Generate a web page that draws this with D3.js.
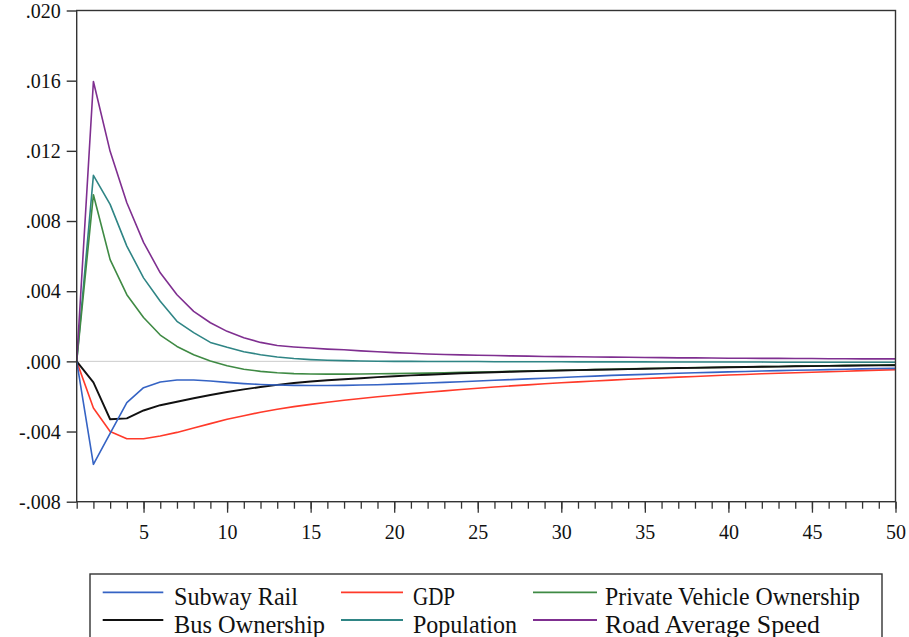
<!DOCTYPE html>
<html><head><meta charset="utf-8">
<script src="https://cdn.jsdelivr.net/npm/d3@7"></script>
<style>body{margin:0;background:#fff}svg{display:block}text{font-family:"Liberation Serif","Times New Roman",serif;fill:#111}</style>
</head><body>
<svg id="c" width="909" height="637"></svg>
<script>
const periods = d3.range(1, 51);
const yTicks = [0.020, 0.016, 0.012, 0.008, 0.004, 0.000, -0.004, -0.008];
const xTickLabels = [5, 10, 15, 20, 25, 30, 35, 40, 45, 50];

const subwayRail = [0,-0.00587,-0.0041,-0.00235,-0.0015,-0.00118,-0.00106,-0.00106,-0.00112,-0.0012,
 -0.00127,-0.00132,-0.00135,-0.00137,-0.00138,-0.00138,-0.00137,-0.00135,-0.00133,-0.0013,
 -0.00127,-0.00123,-0.0012,-0.00116,-0.00112,-0.00108,-0.00104,-0.001,-0.00096,-0.00092,
 -0.00088,-0.00084,-0.0008,-0.00077,-0.00074,-0.00071,-0.00068,-0.00065,-0.00063,-0.0006,
 -0.00058,-0.00055,-0.00053,-0.00051,-0.00049,-0.00047,-0.00045,-0.00043,-0.00041,-0.0004];
const gdp = [0,-0.00266,-0.004,-0.00441,-0.00441,-0.00425,-0.00405,-0.0038,-0.00355,-0.0033,
 -0.0031,-0.0029,-0.00273,-0.00258,-0.00245,-0.00233,-0.00222,-0.00212,-0.00202,-0.00193,
 -0.00184,-0.00176,-0.00168,-0.0016,-0.00153,-0.00146,-0.0014,-0.00134,-0.00128,-0.00122,
 -0.00117,-0.00112,-0.00107,-0.00102,-0.00098,-0.00094,-0.0009,-0.00086,-0.00082,-0.00078,
 -0.00075,-0.00071,-0.00068,-0.00065,-0.00062,-0.00059,-0.00056,-0.00053,-0.0005,-0.00048];
const privateVehicle = [0,0.0095,0.0058,0.0038,0.0025,0.0015,0.00085,0.00038,0.00002,-0.00025,
 -0.00045,-0.00057,-0.00065,-0.0007,-0.00072,-0.00073,-0.00073,-0.00072,-0.00071,-0.0007,
 -0.00068,-0.00067,-0.00065,-0.00063,-0.00061,-0.00059,-0.00057,-0.00055,-0.00053,-0.00051,
 -0.00049,-0.00047,-0.00045,-0.00043,-0.00041,-0.0004,-0.00038,-0.00036,-0.00035,-0.00033,
 -0.00032,-0.0003,-0.00029,-0.00027,-0.00026,-0.00025,-0.00023,-0.00022,-0.00021,-0.0002];
const busOwnership = [0,-0.0012,-0.0033,-0.00325,-0.0028,-0.0025,-0.0023,-0.0021,-0.00192,-0.00175,
 -0.0016,-0.00146,-0.00134,-0.00123,-0.00115,-0.00108,-0.00102,-0.00096,-0.0009,-0.00085,
 -0.0008,-0.00076,-0.00072,-0.00068,-0.00065,-0.00062,-0.00059,-0.00056,-0.00054,-0.00052,
 -0.0005,-0.00048,-0.00046,-0.00044,-0.00042,-0.0004,-0.00038,-0.00037,-0.00035,-0.00034,
 -0.00032,-0.00031,-0.0003,-0.00028,-0.00027,-0.00026,-0.00025,-0.00024,-0.00023,-0.00022];
const population = [0,0.0106,0.00895,0.00657,0.00476,0.00343,0.00228,0.00164,0.00108,0.0008,
 0.00055,0.00038,0.00025,0.00016,0.0001,0.00006,0.00004,0.00002,0.00001,0.0,
 0.0,-0.00001,-0.00001,-0.00001,-0.00001,-0.00002,-0.00002,-0.00002,-0.00002,-0.00002,
 -0.00003,-0.00003,-0.00003,-0.00003,-0.00003,-0.00004,-0.00004,-0.00004,-0.00004,-0.00004,
 -0.00004,-0.00004,-0.00005,-0.00005,-0.00005,-0.00005,-0.00005,-0.00005,-0.00005,-0.00005];
const roadSpeed = [0,0.01595,0.01197,0.00904,0.00678,0.00505,0.0038,0.00285,0.0022,0.00171,
 0.00135,0.00108,0.0009,0.00082,0.00076,0.0007,0.00066,0.0006,0.00055,0.0005,
 0.00046,0.00042,0.00039,0.00037,0.00035,0.00033,0.00031,0.0003,0.00028,0.00027,
 0.00026,0.00025,0.00024,0.00023,0.00022,0.00021,0.0002,0.0002,0.00019,0.00018,
 0.00018,0.00017,0.00017,0.00016,0.00016,0.00015,0.00015,0.00014,0.00014,0.00014];

const seriesNames = ["Subway Rail","GDP","Private Vehicle Ownership","Bus Ownership","Population","Road Average Speed"];
const seriesValues = [subwayRail, gdp, privateVehicle, busOwnership, population, roadSpeed];
const seriesColors = ["#3563c4","#ff3a2a","#3f8a44","#111111","#2f8585","#7f2f90"];
const legendWidths = [124,42,255,151,104,215];

const svg = d3.select("#c");
const L = 76.7, R = 895.5, T = 10.5, B = 501.7;
const x = d3.scaleLinear().domain([1,50]).range([L,R]);
const y = d3.scaleLinear().domain([-0.008,0.020]).range([B,T]);

// zero line
svg.append("line").attr("x1",L).attr("x2",R).attr("y1",y(0)).attr("y2",y(0))
  .attr("stroke","#cccccc").attr("stroke-width",1);

const line = d3.line().x((d,i)=>x(periods[i])).y(d=>y(d));
const order = [4,2,5,1,3,0];
order.forEach(k=>{
  svg.append("path").datum(seriesValues[k]).attr("d",line)
    .attr("fill","none").attr("stroke",seriesColors[k]).attr("stroke-width",k===3?1.9:1.6)
    .attr("stroke-linejoin","round");
});

// frame
svg.append("rect").attr("x",L).attr("y",T).attr("width",R-L).attr("height",B-T)
  .attr("fill","none").attr("stroke","#333").attr("stroke-width",1.4);

// y axis
const yAxis = d3.axisLeft(y).tickValues(yTicks).tickSize(10).tickPadding(6)
  .tickFormat(d=>{const s=d3.format(".3f")(Math.abs(d)).replace(/^0\./,".");return (d<0?"-":"")+s;});
const gy = svg.append("g").attr("transform",`translate(${L},0)`).call(yAxis);
gy.select(".domain").remove();
gy.selectAll("line").attr("stroke","#333").attr("stroke-width",1.4);
gy.selectAll("text").attr("font-size",20).attr("font-family","Liberation Serif").attr("fill","#111").attr("dy","0.34em");

// x axis minor ticks
const gxm = svg.append("g").attr("transform",`translate(0,${B})`)
  .call(d3.axisBottom(x).tickValues(periods).tickSize(7).tickFormat(""));
gxm.select(".domain").remove();
gxm.selectAll("line").attr("stroke","#333").attr("stroke-width",1.3);
const gx = svg.append("g").attr("transform",`translate(0,${B})`)
  .call(d3.axisBottom(x).tickValues(xTickLabels).tickSize(11).tickPadding(12));
gx.select(".domain").remove();
gx.selectAll("line").attr("stroke","#333").attr("stroke-width",1.3);
gx.selectAll("text").attr("font-size",20).attr("font-family","Liberation Serif").attr("fill","#111");

// legend
const lg = svg.append("g");
lg.append("rect").attr("x",90).attr("y",574).attr("width",792).attr("height",70)
  .attr("fill","none").attr("stroke","#333").attr("stroke-width",1.4);
const colX = [[102.7,163.3,174],[341,403,413],[533,597,605]];
const rowY = [592.3,620];
const rowBase = [604.5,632.5];
seriesNames.forEach((n,i)=>{
  const c = i%3, r = Math.floor(i/3);
  lg.append("line").attr("x1",colX[c][0]).attr("x2",colX[c][1]).attr("y1",rowY[r]).attr("y2",rowY[r])
    .attr("stroke",seriesColors[i]).attr("stroke-width",1.8);
  lg.append("text").attr("x",colX[c][2]).attr("y",rowBase[r]).attr("font-size",25)
    .attr("textLength",legendWidths[i]).attr("lengthAdjust","spacingAndGlyphs").text(n);
});
</script>
</body></html>
